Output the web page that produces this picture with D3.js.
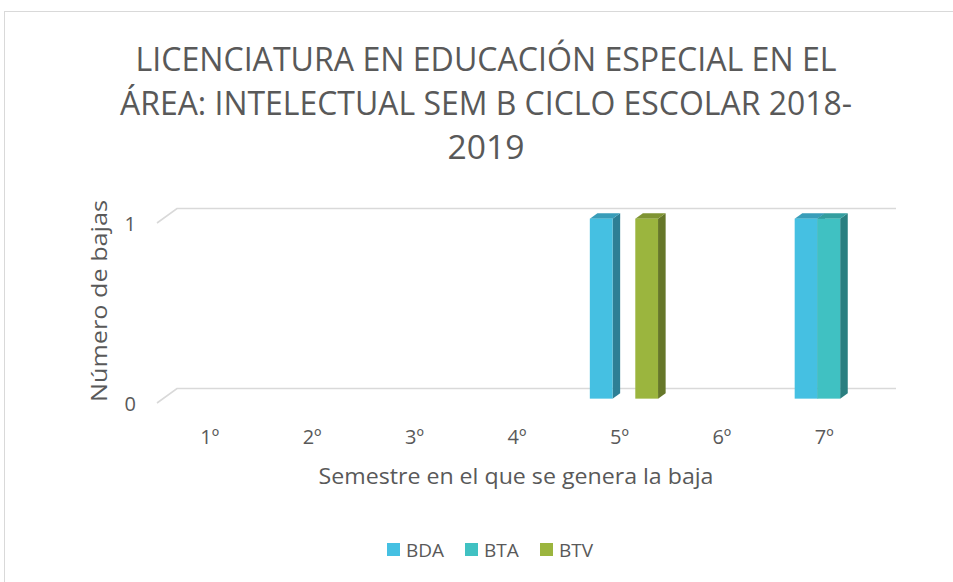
<!DOCTYPE html>
<html><head><meta charset="utf-8">
<script src="https://cdn.jsdelivr.net/npm/d3@7"></script>
<style>html,body{margin:0;padding:0;background:#fff;}svg{display:block;}</style>
</head><body>
<script>
const categories = ["1º","2º","3º","4º","5º","6º","7º"];
const seriesNames = ["BDA","BTA","BTV"];
const BDA = [0,0,0,0,1,0,1];
const BTA = [0,0,0,0,0,0,1];
const BTV = [0,0,0,0,1,0,0];
const yTicks = [0,1];
const titleLines = ["LICENCIATURA EN EDUCACIÓN ESPECIAL EN EL","ÁREA: INTELECTUAL SEM B CICLO ESCOLAR 2018-","2019"];
const xTitle = "Semestre en el que se genera la baja";
const yTitle = "Número de bajas";
const colors = ["#45c0e2","#40c1c2","#9bb53e"];

const W = 953, H = 582;
const font = "'Open Sans', sans-serif";
const txt = "#595959";
const svg = d3.select("body").append("svg").attr("width", W).attr("height", H);

svg.append("rect").attr("x",4.5).attr("y",11.5).attr("width",1000).attr("height",700)
  .attr("fill","#fff").attr("stroke","#d9d9d9").attr("stroke-width",1);

// title
const tY = [71,115,159], tLen = [701,732,77];
titleLines.forEach((l,i)=>{
  const t = svg.append("text").attr("x",486).attr("y",tY[i]).attr("text-anchor","middle")
    .attr("font-family",font).attr("font-size",33).attr("fill",txt).text(l);
  if (tLen[i]) t.attr("textLength",tLen[i]).attr("lengthAdjust","spacingAndGlyphs");
});

// 3D geometry
const depthX = 20, depthY = -14.5;
const x = d3.scaleBand().domain(categories).range([157, 874]).padding(0);
const y = d3.scaleLinear().domain([0,1]).range([403,223]);
const xs = d3.scaleBand().domain(seriesNames)
  .range([x.bandwidth()*0.167, x.bandwidth()*0.833]).padding(0);

// gridlines (floor/back wall)
const grid = svg.append("g").attr("stroke","#d9d9d9").attr("stroke-width",1.6).attr("fill","none");
yTicks.forEach(v=>{
  const yf = y(v);
  grid.append("path").attr("d",`M${x.range()[0]},${yf}L${x.range()[0]+depthX},${yf+depthY}H${x.range()[1]+depthX+2}`);
});

// y tick labels
svg.append("g").selectAll("text").data(yTicks).join("text")
  .attr("x",136).attr("y",d=>y(d)+8).attr("text-anchor","end")
  .attr("font-family",font).attr("font-size",20).attr("fill",txt).text(d=>d);

// x tick labels
svg.append("g").selectAll("text").data(categories).join("text")
  .attr("x",d=>x(d)+x.bandwidth()/2+1.5).attr("y",444).attr("text-anchor","middle")
  .attr("font-family",font).attr("font-size",20).attr("fill",txt).text(d=>d);

// bars
const tF = 0.3, tB = 0.68;
const data = [BDA,BTA,BTV];
const bars = svg.append("g");
categories.forEach((c,ci)=>{
  seriesNames.forEach((s,si)=>{
    const v = data[si][ci];
    if (!v) return;
    const col = d3.color(colors[si]);
    const top = d3.rgb(col.r*0.82,col.g*0.82,col.b*0.82);
    const side = d3.rgb(col.r*0.66,col.g*0.66,col.b*0.66);
    const x0 = x(c)+xs(s)+depthX*tF, x1 = x0+xs.bandwidth();
    const y0 = y(0)+depthY*tF, y1 = y(v)+depthY*tF;
    const ddx = depthX*(tB-tF), ddy = depthY*(tB-tF);
    const g = bars.append("g");
    g.append("path").attr("fill",side)
      .attr("d",`M${x1},${y0}L${x1+ddx},${y0+ddy}L${x1+ddx},${y1+ddy}L${x1},${y1}Z`);
    g.append("path").attr("fill",top)
      .attr("d",`M${x0},${y1}L${x0+ddx},${y1+ddy}L${x1+ddx},${y1+ddy}L${x1},${y1}Z`);
    g.append("rect").attr("fill",col).attr("x",x0).attr("y",y1).attr("width",x1-x0).attr("height",y0-y1);
  });
});

// axis titles
svg.append("text").attr("x",516).attr("y",484).attr("text-anchor","middle")
  .attr("font-family",font).attr("font-size",21).attr("fill",txt)
  .attr("textLength",395).attr("lengthAdjust","spacingAndGlyphs").text(xTitle);
svg.append("text").attr("transform","translate(107,301) rotate(-90)").attr("text-anchor","middle")
  .attr("font-family",font).attr("font-size",21).attr("fill",txt)
  .attr("textLength",202).attr("lengthAdjust","spacingAndGlyphs").text(yTitle);

// legend
const legX = [387,465,540];
const leg = svg.append("g");
seriesNames.forEach((s,i)=>{
  leg.append("rect").attr("x",legX[i]).attr("y",543).attr("width",13).attr("height",13).attr("fill",colors[i]);
  leg.append("text").attr("x",legX[i]+19).attr("y",557).attr("font-family",font).attr("font-size",19)
    .attr("fill",txt).text(s);
});
</script>
</body></html>
